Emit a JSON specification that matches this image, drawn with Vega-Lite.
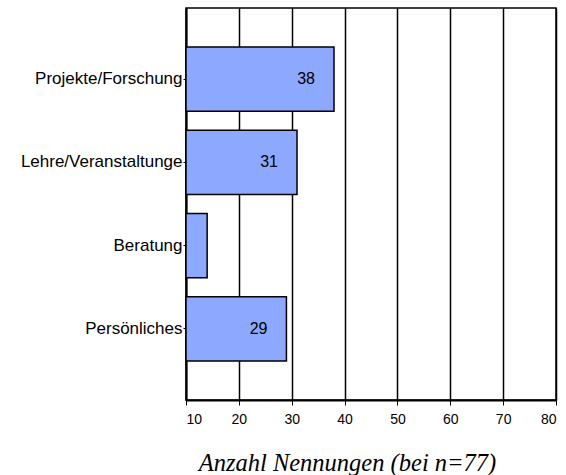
{
  "$schema": "https://vega.github.io/schema/vega-lite/v6.json",
  "autosize": "none",
  "width": 370,
  "height": 392,
  "padding": {"left": 186, "top": 8, "right": 10, "bottom": 75},
  "background": "white",
  "config": {
    "view": {"stroke": "black", "strokeWidth": 1.5},
    "font": "Liberation Sans"
  },
  "data": {
    "values": [
      {"kategorie": "Projekte/Forschung", "anzahl": 38, "label": "38"},
      {"kategorie": "Lehre/Veranstaltunge", "anzahl": 31, "label": "31"},
      {"kategorie": "Beratung", "anzahl": 14, "label": ""},
      {"kategorie": "Persönliches", "anzahl": 29, "label": "29"}
    ]
  },
  "encoding": {
    "y": {
      "field": "kategorie",
      "type": "nominal",
      "sort": null,
      "scale": {"paddingInner": 0.23, "paddingOuter": 0.47},
      "axis": {
        "title": null,
        "domainColor": "black",
        "domainWidth": 2,
        "tickColor": "black",
        "tickSize": 3,
        "labelPadding": 1,
        "labelFont": "Liberation Sans",
        "labelFontSize": 17,
        "labelColor": "black",
        "labelLimit": 300
      }
    }
  },
  "layer": [
    {
      "mark": {"type": "bar", "color": "#8DA8FF", "stroke": "black", "strokeWidth": 1.5},
      "encoding": {
        "x": {
          "field": "anzahl",
          "type": "quantitative",
          "scale": {"domain": [10, 80], "zero": false, "nice": false},
          "axis": {
            "values": [10, 20, 30, 40, 50, 60, 70, 80],
            "grid": true,
            "gridColor": "black",
            "gridWidth": 1.5,
            "gridOpacity": 1,
            "domainColor": "black",
            "domainWidth": 2,
            "tickColor": "black",
            "tickSize": 5,
            "labelFont": "Liberation Sans",
            "labelFontSize": 14,
            "labelColor": "black",
            "labelPadding": 7,
            "title": "Anzahl Nennungen (bei n=77)",
            "titleFont": "Liberation Serif",
            "titleFontStyle": "italic",
            "titleFontWeight": "normal",
            "titleFontSize": 24.5,
            "titleColor": "black",
            "titleX": 161,
            "titleY": 70,
            "titleAlign": "center",
            "titleBaseline": "alphabetic"
          }
        },
        "x2": {"datum": 10}
      }
    },
    {
      "mark": {"type": "text", "align": "right", "baseline": "middle", "dx": -19, "fontSize": 16, "font": "Liberation Sans", "color": "black"},
      "encoding": {
        "x": {"field": "anzahl", "type": "quantitative"},
        "text": {"field": "label"}
      }
    }
  ]
}
